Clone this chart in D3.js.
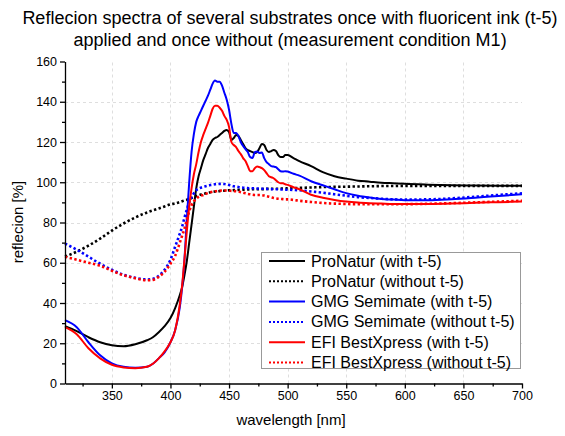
<!DOCTYPE html>
<html>
<head>
<meta charset="utf-8">
<script src="https://cdn.jsdelivr.net/npm/d3@7"></script>
<style>
body { margin: 0; background: #fff; }
text { font-family: Arial, "Liberation Sans", sans-serif; }
</style>
</head>
<body>
<script>
// wavelengths in nm, shared by all series
const wavelengths = [310, 320, 330, 340, 350, 360, 370, 380, 385, 390, 395, 400, 404, 408,
    410, 412, 414, 416, 418, 420, 422, 424, 426, 428,
    430, 432, 434, 436, 438, 440, 442, 444, 446, 448,
    450, 452, 454, 456, 458, 460, 462, 464, 466, 468,
    470, 472, 474, 476, 478, 480, 482, 484, 486, 488,
    490, 492, 494, 496, 498, 500, 505, 510,
    520, 530, 540, 550, 560, 570, 580, 590, 600,
    620, 640, 660, 680, 700]

const proNaturWith = [28.5, 26, 23, 20.5, 19, 18.5, 19.5, 21.5, 23, 25.5, 28.5, 32.5, 37.5, 44,
    48, 54, 61, 70, 79, 88, 97, 103, 107, 111,
    114, 117, 119, 121, 122, 122.5, 123.5, 124.5, 125.5, 126,
    125, 121, 122, 123.5, 123, 121, 119, 117, 116, 115.5,
    115, 114.5, 115, 117, 119, 118.5, 116, 115, 115.5, 116,
    115.5, 113.5, 112.5, 112.5, 113.5, 113.5, 112, 110.5,
    108, 105, 103, 101.8, 100.8, 100.3, 99.8, 99.5, 99.2,
    98.8, 98.5, 98.4, 98.3, 98.2]

const proNaturWithout = [63, 65.5, 68.5, 72, 76, 79.5, 82.5, 85, 86, 87, 88, 89, 89.5, 90.2,
    90.6, 91, 91.3, 91.7, 92.2, 92.7, 93.1, 93.5, 93.9, 94.2,
    94.5, 94.8, 95, 95.2, 95.4, 95.5, 95.6, 95.7, 95.8, 95.9,
    96, 96, 96.1, 96.1, 96.2, 96.2, 96.3, 96.3, 96.4, 96.4,
    96.5, 96.5, 96.5, 96.6, 96.6, 96.6, 96.7, 96.7, 96.7, 96.8,
    96.8, 96.8, 96.9, 96.9, 96.9, 97, 97.1, 97.2,
    97.4, 97.6, 97.7, 97.8, 97.9, 98, 98.1, 98.1, 98.2,
    98.2, 98.2, 98.2, 98.2, 98.2]

const gmgWith = [31.5, 28, 20.5, 14, 10, 8.3, 7.8, 8.3, 9.8, 12.5, 15.5, 20.5, 26.5, 38,
    48, 62, 82, 100, 115, 124, 130, 133, 135.5, 138,
    140.5, 143, 146, 149, 150.5, 150, 150, 148, 144.5, 141,
    136, 129, 124.5, 124.5, 123, 120, 118, 116.5, 115, 112.5,
    112, 115, 115.3, 114.5, 114.8, 112, 110, 109, 108, 107.8,
    107.5, 106.5, 105.5, 105.3, 105.5, 105.3, 104.2, 103.3,
    100.5, 98.5, 96.5, 94.6, 93.3, 92.4, 91.7, 91.4, 91.1,
    91, 91.5, 92.3, 93.2, 94]

const gmgWithout = [69.5, 66.5, 63, 59.5, 56.5, 54, 52.5, 51.7, 52, 53.5, 56.5, 61.5, 68, 74.5,
    78, 82.5, 86.5, 90, 92.5, 94.5, 96, 96.8, 97.3, 97.7,
    98, 98.3, 98.6, 98.8, 99, 99.1, 99.2, 99.2, 99.1, 98.9,
    98.6, 98.3, 98, 97.8, 97.6, 97.4, 97.3, 97.2, 97.1, 97,
    97, 96.9, 96.9, 96.8, 96.8, 96.7, 96.7, 96.6, 96.6, 96.5,
    96.5, 96.5, 96.4, 96.4, 96.3, 96.3, 96.2, 96,
    95.4, 94.8, 94, 93.3, 92.6, 92.2, 91.8, 91.5, 91.4,
    91.5, 92, 92.8, 93.7, 94.5]

const efiWith = [28, 24.5, 17.5, 12.5, 9.3, 8, 7.6, 8.3, 9.8, 12.5, 16, 20.5, 26.5, 39.5,
    49, 62, 76, 88, 97, 104, 109, 115, 120, 123.5,
    126.5, 129.5, 133, 136.5, 138, 138, 137, 135.5, 133, 131,
    127.5, 120, 118.5, 117.5, 115.5, 114, 112, 110.5, 108, 105.5,
    105.5, 107, 107.8, 107.5, 107, 106, 104.5, 103, 102.5, 102,
    101, 100, 99.5, 99.5, 99, 98.7, 97.5, 96.5,
    93.8, 92.3, 91.2, 90.4, 89.9, 89.6, 89.4, 89.2, 89.2,
    89.2, 89.4, 89.8, 90.1, 90.4]

const efiWithout = [63, 61.5, 60, 58.5, 56, 53.8, 52.3, 51.3, 51.5, 53, 55.5, 59.5, 63.5, 70,
    73.5, 77, 81.5, 85.5, 88.5, 90.5, 91.8, 92.7, 93.3, 93.7,
    94.2, 94.6, 95, 95.3, 95.5, 95.6, 95.8, 95.9, 95.9, 95.9,
    95.8, 95.7, 95.6, 95.5, 95.3, 95.1, 94.8, 94.5, 94.2, 94,
    93.8, 93.7, 93.7, 93.7, 93.6, 93.4, 93.1, 92.8, 92.5, 92.2,
    92, 91.8, 91.7, 91.6, 91.5, 91.5, 91.2, 90.8,
    90.2, 89.7, 89.4, 89.2, 89.1, 89.1, 89.1, 89.1, 89.1,
    89.3, 89.6, 90, 90.4, 90.8]

const seriesNames = ['ProNatur (with t-5)', 'ProNatur (without t-5)',
    'GMG Semimate (with t-5)', 'GMG Semimate (without t-5)',
    'EFI BestXpress (with t-5)', 'EFI BestXpress (without t-5)']
const seriesValues = [proNaturWith, proNaturWithout, gmgWith, gmgWithout, efiWith, efiWithout]
const seriesColors = ['#000000', '#000000', '#0000ff', '#0000ff', '#ff0000', '#ff0000']
const seriesDotted = [false, true, false, true, false, true]

const xTicks = [350, 400, 450, 500, 550, 600, 650, 700]
const yTicks = [0, 20, 40, 60, 80, 100, 120, 140, 160]

const m = {
    width: 565,
    height: 436,
    left: 65,
    right: 522,
    top: 61.5,
    bottom: 383.5
}

const svg = d3.select('body').append('svg')
    .attr('width', m.width)
    .attr('height', m.height)

const x = d3.scaleLinear().domain([310, 700]).range([m.left, m.right])
const y = d3.scaleLinear().domain([0, 160]).range([m.bottom, m.top])

// dashed grid
const grid = svg.append('g')
    .attr('stroke', '#dedede')
    .attr('stroke-width', 1)
    .attr('stroke-dasharray', '3,3')

grid.selectAll('.gx')
    .data(xTicks.filter(d => d < 700))
    .enter()
    .append('line')
    .attr('x1', d => Math.round(x(d)) + 0.5)
    .attr('x2', d => Math.round(x(d)) + 0.5)
    .attr('y1', y(0))
    .attr('y2', y(160))

grid.selectAll('.gy')
    .data(yTicks.filter(d => d > 0 && d < 160))
    .enter()
    .append('line')
    .attr('x1', x(310))
    .attr('x2', x(700))
    .attr('y1', d => Math.round(y(d)) + 0.5)
    .attr('y2', d => Math.round(y(d)) + 0.5)

// curves
const line = d3.line()
    .x((d, i) => x(wavelengths[i]))
    .y(d => y(d))
    .curve(d3.curveMonotoneX)

svg.append('g')
    .selectAll('path')
    .data(seriesValues)
    .enter()
    .append('path')
    .attr('fill', 'none')
    .attr('stroke', (d, i) => seriesColors[i])
    .attr('stroke-width', (d, i) => seriesDotted[i] ? 2.6 : 2)
    .attr('stroke-dasharray', (d, i) => seriesDotted[i] ? '2.4,2.4' : null)
    .attr('d', line)

// axes
svg.append('g')
    .attr('transform', `translate(0,${m.bottom})`)
    .call(d3.axisBottom(x).tickValues(xTicks).tickSize(5).tickSizeOuter(0))
svg.append('g')
    .attr('transform', `translate(0,${m.bottom})`)
    .call(d3.axisBottom(x).tickValues(d3.range(325, 700, 50)).tickSize(3).tickFormat(''))
    .select('.domain').remove()

svg.append('g')
    .attr('transform', `translate(${m.left},0)`)
    .call(d3.axisLeft(y).tickValues(yTicks).tickSize(5).tickSizeOuter(0))
svg.append('g')
    .attr('transform', `translate(${m.left},0)`)
    .call(d3.axisLeft(y).tickValues(d3.range(10, 160, 20)).tickSize(3).tickFormat(''))
    .select('.domain').remove()

svg.selectAll('.tick text')
    .attr('font-size', 12.5)
    .attr('font-family', 'Arial, "Liberation Sans", sans-serif')
    .attr('fill', '#000')
svg.selectAll('.domain, .tick line')
    .attr('stroke', '#000')
    .attr('stroke-width', 1.3)

// titles
svg.append('text')
    .attr('x', 290)
    .attr('y', 24)
    .attr('text-anchor', 'middle')
    .attr('font-size', 18)
    .text('Reflecion spectra of several substrates once with fluoricent ink (t-5)')
svg.append('text')
    .attr('x', 290)
    .attr('y', 46)
    .attr('text-anchor', 'middle')
    .attr('font-size', 18)
    .text('applied and once without (measurement condition M1)')

svg.append('text')
    .attr('x', 291)
    .attr('y', 425)
    .attr('text-anchor', 'middle')
    .attr('font-size', 15)
    .text('wavelength [nm]')

svg.append('text')
    .attr('transform', 'translate(23,222) rotate(-90)')
    .attr('text-anchor', 'middle')
    .attr('font-size', 15)
    .text('reflecion [%]')

// legend
const legend = svg.append('g')

legend.append('rect')
    .attr('x', 261.5)
    .attr('y', 252.5)
    .attr('width', 259)
    .attr('height', 116)
    .attr('fill', '#fff')
    .attr('stroke', '#999')
    .attr('stroke-width', 1)

const rows = legend.selectAll('.row')
    .data(seriesNames)
    .enter()
    .append('g')
    .attr('transform', (d, i) => `translate(269,${261 + i * 20.3})`)

rows.append('line')
    .attr('x1', 0)
    .attr('x2', 36)
    .attr('stroke', (d, i) => seriesColors[i])
    .attr('stroke-width', 2)
    .attr('stroke-dasharray', (d, i) => seriesDotted[i] ? '2,2' : null)

rows.append('text')
    .attr('x', 42)
    .attr('y', 5.5)
    .attr('font-size', 16)
    .text(d => d)
</script>
</body>
</html>
